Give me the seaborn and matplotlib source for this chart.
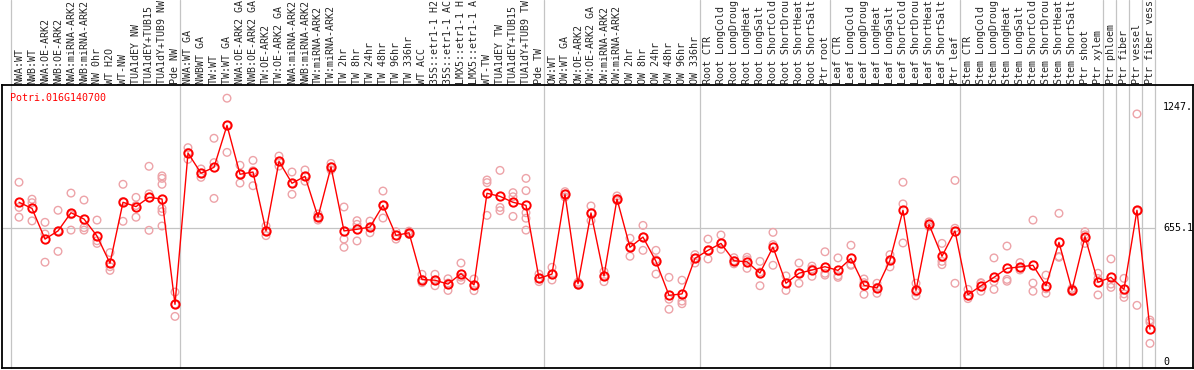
import matplotlib
matplotlib.use('Agg')
import matplotlib.pyplot as plt
import numpy as np
import pandas as pd
import seaborn as sns

gene = "Potri.016G140700"

labels = [
    # NW group
    "NWA:WT", "NWB:WT", "NWA:OE-ARK2", "NWB:OE-ARK2", "NWA:miRNA-ARK2", "NWB:miRNA-ARK2",
    "NW 0hr", "WT H2O", "WT-NW", "TUA1dEY NW", "TUA1dEY+TUB15 NW", "TUA1dY+TUB9 NW", "Pde NW",
    # TW group
    "NWA:WT GA", "NWBWT GA", "TW:WT", "TW:WT GA", "NWA:OE-ARK2 GA", "NWB:OE-ARK2 GA",
    "TW:OE-ARK2", "TW:OE-ARK2 GA", "NWA:miRNA-ARK2 GA", "NWB:miRNA-ARK2 GA",
    "TW:miRNA-ARK2", "TW:miRNA-ARK2 GA", "TW 2hr", "TW 8hr", "TW 24hr", "TW 48hr",
    "TW 96hr", "TW 336hr", "WT ACC", "35S::etr1-1 H2O", "35S::etr1-1 ACC",
    "LMX5::etr1-1 H2O", "LMX5::etr1-1 ACC", "WT-TW", "TUA1dEY TW", "TUA1dEY+TUB15 TW",
    "TUA1dY+TUB9 TW", "Pde TW",
    # OW group
    "OW:WT", "OW:WT GA", "OW:OE-ARK2", "OW:OE-ARK2 GA", "OW:miRNA-ARK2", "OW:miRNA-ARK2 GA",
    "OW 2hr", "OW 8hr", "OW 24hr", "OW 48hr", "OW 96hr", "OW 336hr",
    # tissues
    "Root CTR", "Root LongCold", "Root LongDrought", "Root LongHeat", "Root LongSalt",
    "Root ShortCold", "Root ShortDrought", "Root ShortHeat", "Root ShortSalt", "Ptr root",
    "Leaf CTR", "Leaf LongCold", "Leaf LongDrought", "Leaf LongHeat", "Leaf LongSalt",
    "Leaf ShortCold", "Leaf ShortDrought", "Leaf ShortHeat", "Leaf ShortSalt", "Ptr leaf",
    "Stem CTR", "Stem LongCold", "Stem LongDrought", "Stem LongHeat", "Stem LongSalt",
    "Stem ShortCold", "Stem ShortDrought", "Stem ShortHeat", "Stem ShortSalt", "Ptr shoot",
    "Ptr xylem", "Ptr phloem", "Ptr fiber", "Ptr vessel", "Ptr fiber vessel",
]

# index of the first sample in each block (plus the end)
group_starts = [0, 13, 41, 53, 63, 73, 84, 85, 86, 87, 88]

means = [781, 751, 601, 641, 730, 699, 616, 483, 781, 760, 805, 797, 282,
         1022, 923, 952, 1157, 918, 929, 641, 981, 874, 908, 709, 954, 641, 649,
         660, 766, 619, 632, 403, 400, 381, 432, 377, 825, 810, 781, 766, 409,
         430, 820, 383, 729, 421, 797, 561, 611, 492, 326, 333, 507,
         546, 580, 495, 490, 435, 562, 385, 434, 450, 466,
         448, 507, 375, 362, 497, 742, 350, 673, 517, 641,
         329, 373, 414, 458, 465, 473, 373, 585, 352, 613, 390, 414, 355, 742, 161]

replicates = [
    [879, 756, 708], [796, 779, 690], [683, 626, 488], [742, 641, 541],
    [826, 720, 645], [792, 657, 645], [694, 593, 580], [535, 466, 448],
    [869, 785, 688], [805, 765, 708], [957, 822, 644],
    [910, 898, 869, 751, 735, 665], [342, 282, 223],
    [1048, 1025, 991], [944, 923, 903], [1094, 975, 800], [1290, 1157, 1025],
    [962, 918, 875], [986, 935, 862], [665, 641, 618], [1007, 981, 958],
    [929, 874, 820], [939, 908, 884], [724, 709, 694], [971, 954, 939],
    [758, 601, 561], [691, 673, 592], [689, 660, 632], [836, 766, 704],
    [637, 619, 601], [640, 632, 624], [429, 403, 388], [429, 400, 373],
    [407, 386, 350], [484, 415, 400], [406, 377, 349], [890, 877, 717],
    [937, 756, 740], [828, 808, 712], [898, 838, 730, 703, 645], [430, 409, 393],
    [463, 430, 401], [833, 820, 807], [390, 383, 376], [763, 729, 691],
    [442, 421, 393], [812, 797, 789], [605, 561, 517], [668, 611, 546],
    [546, 500, 430], [414, 307, 258], [400, 298, 285], [525, 507, 484],
    [601, 546, 504], [621, 580, 551], [510, 495, 480], [512, 500, 458],
    [492, 440, 373], [634, 574, 473], [421, 385, 350], [484, 434, 385],
    [469, 455, 419], [539, 434, 425],
    [509, 422, 414], [571, 477, 473], [406, 388, 331], [385, 365, 336],
    [525, 500, 465], [879, 773, 582], [385, 342, 324], [685, 673, 662],
    [580, 492, 476], [888, 654, 385],
    [355, 323, 310], [388, 385, 346], [509, 393, 355], [567, 404, 395],
    [486, 460, 450], [694, 386, 346], [425, 358, 336], [727, 516, 512],
    [360, 352, 344], [637, 622, 580], [434, 408, 328], [504, 381, 365],
    [409, 333, 316], [1213, 738, 277], [205, 194, 91],
]

right_ticks = [1247.0, 655.1, 0]
right_tick_labels = ["1247.", "655.1", "0"]

mean_color = "#ff0000"
rep_color = "#eda3a8"
grid_color = "#c4c4c4"

# the header band only has room for ~14 characters
shown_labels = [l[:14] for l in labels]

# long-form table of the replicate values
pos = np.arange(len(labels))
rep_df = pd.DataFrame({
    "pos": np.repeat(pos, [len(r) for r in replicates]),
    "value": np.concatenate(replicates),
})

sns.set_style("white")
plt.rcParams['font.family'] = ['DejaVu Sans Mono']

fig = plt.figure(figsize=(11.94, 3.70), dpi=100)
ax = fig.add_axes([2 / 1194, 2 / 370, 1191 / 1194, 283 / 370])

# separators between sample blocks, running up through the label area
for g in group_starts:
    ax.axvline(g - 0.6, ymin=0, ymax=368 / 283, color=grid_color, lw=0.9,
               clip_on=False, zorder=1)
ax.hlines(655.1, -1.31, group_starts[-1] - 0.6, color=grid_color, lw=0.9, zorder=1)

sns.scatterplot(data=rep_df, x="pos", y="value", ax=ax, marker="o", s=30,
                color=rep_color, facecolors="none", edgecolor=rep_color,
                linewidth=1.0, zorder=2, legend=False)

sns.lineplot(x=pos, y=means, ax=ax, color=mean_color, linewidth=1.0,
             marker="o", markersize=6, markerfacecolor="none",
             markeredgecolor=mean_color, markeredgewidth=1.4,
             errorbar=None, zorder=3)

ax.set_xlim(-1.308, 90.31)
ax.set_ylim(-29.3, 1354.5)

ax.set_xticks(pos)
ax.set_xticklabels(shown_labels, rotation=90, fontsize=7.2)
ax.tick_params(axis="x", top=True, labeltop=True, bottom=False,
               labelbottom=False, length=0, pad=1)
ax.set_yticks([])
ax.set_xlabel("")
ax.set_ylabel("")

for v, s in zip(right_ticks, right_tick_labels):
    ax.text(88.0, v, s, fontsize=7.2, ha="left", va="center", color="black")

ax.text(0.0067, 0.972, gene, transform=ax.transAxes, fontsize=7.2,
        color=mean_color, ha="left", va="top")

for sp in ax.spines.values():
    sp.set_color("black")
    sp.set_linewidth(1.3)

fig.savefig("out.png", dpi=100)
